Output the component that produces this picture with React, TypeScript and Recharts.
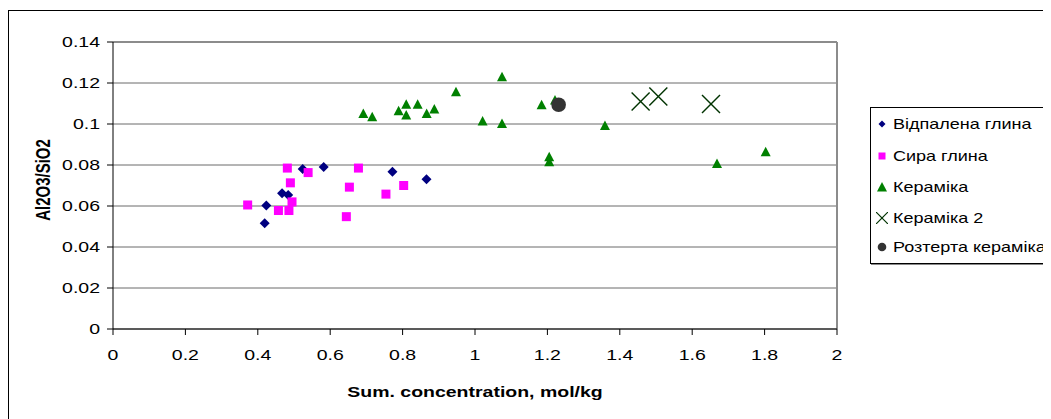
import React from 'react';
import { ScatterChart, Scatter, XAxis, YAxis, CartesianGrid, ReferenceLine } from 'recharts';

// Відпалена глина
const annealedX = [0.419, 0.4235, 0.467, 0.484, 0.524, 0.582, 0.772, 0.866];
const annealedY = [0.0516, 0.0602, 0.0662, 0.0654, 0.078, 0.079, 0.0767, 0.0731];
// Сира глина
const rawX = [0.372, 0.457, 0.486, 0.4945, 0.49, 0.4816, 0.539, 0.6446, 0.653, 0.678, 0.754, 0.803];
const rawY = [0.0605, 0.0578, 0.0578, 0.062, 0.0713, 0.0785, 0.0763, 0.0548, 0.0692, 0.0785, 0.0658, 0.07];
// Кераміка
const ceramicX = [0.6915, 0.716, 0.789, 0.81, 0.81, 0.8416, 0.8665, 0.8876, 0.9475, 1.021, 1.0746, 1.0746, 1.184, 1.205, 1.205, 1.221, 1.359, 1.6685, 1.803];
const ceramicY = [0.1053, 0.1037, 0.1066, 0.1097, 0.1045, 0.1097, 0.1053, 0.1074, 0.1159, 0.1016, 0.1232, 0.1004, 0.1095, 0.0841, 0.0817, 0.1118, 0.0994, 0.0809, 0.0866];
// Кераміка 2
const ceramic2X = [1.4576, 1.5064, 1.652];
const ceramic2Y = [0.111, 0.1134, 0.1097];
// Розтерта кераміка
const groundX = [1.231];
const groundY = [0.1094];

const seriesNames = ['Відпалена глина', 'Сира глина', 'Кераміка', 'Кераміка 2', 'Розтерта кераміка'];
const xTicks = [0, 0.2, 0.4, 0.6, 0.8, 1, 1.2, 1.4, 1.6, 1.8, 2];
const yTicks = [0, 0.02, 0.04, 0.06, 0.08, 0.1, 0.12, 0.14];
const xTitle = 'Sum. concentration, mol/kg';
const yTitle = 'Al2O3/SiO2';

const FONT = '"Liberation Sans", Arial, sans-serif';
const SX = 1.3;
const LSX = 1.2;

const toPts = (xs: number[], ys: number[]) => xs.map((x, i) => ({ x, y: ys[i] }));
const fmt = (v: number) => String(Number(v.toFixed(2)));

const Diamond = (p: any) => {
  const { cx, cy } = p; const r = 5;
  return <polygon points={`${cx},${cy - r} ${cx + r},${cy} ${cx},${cy + r} ${cx - r},${cy}`} fill="#000080" />;
};
const Square = (p: any) => {
  const { cx, cy } = p; const s = 9;
  return <rect x={cx - s / 2} y={cy - s / 2} width={s} height={s} fill="#FF00FF" />;
};
const Triangle = (p: any) => {
  const { cx, cy } = p; const w = 10; const h = 9.5;
  return <polygon points={`${cx},${cy - h / 2} ${cx + w / 2},${cy + h / 2} ${cx - w / 2},${cy + h / 2}`} fill="#008000" />;
};
const Cross = (p: any) => {
  const { cx, cy } = p; const r = 9;
  return (
    <g stroke="#003300" strokeWidth={1.4}>
      <line x1={cx - r} y1={cy - r} x2={cx + r} y2={cy + r} />
      <line x1={cx - r} y1={cy + r} x2={cx + r} y2={cy - r} />
    </g>
  );
};
const Dot = (p: any) => {
  const { cx, cy } = p;
  return <circle cx={cx} cy={cy} r={7.3} fill="#333333" />;
};

const YTick = (p: any) => {
  const { x, y, payload } = p;
  return (
    <text transform={`translate(${x},${y}) scale(${SX},1)`} textAnchor="end" dominantBaseline="central" fontSize={15} fontFamily={FONT} fill="#000">
      {fmt(payload.value)}
    </text>
  );
};
const XTick = (p: any) => {
  const { x, y, payload } = p;
  return (
    <text transform={`translate(${x},${y}) scale(${SX},1)`} textAnchor="middle" dominantBaseline="central" fontSize={15} fontFamily={FONT} fill="#000">
      {fmt(payload.value)}
    </text>
  );
};

const XTitle = (p: any) => {
  const vb = p.viewBox || { x: 105, y: 321, width: 724 };
  return (
    <text transform={`translate(${vb.x + vb.width / 2},${vb.y + 63}) scale(${SX},1)`} textAnchor="middle" dominantBaseline="central" fontSize={15} fontWeight="bold" fontFamily={FONT} fill="#000">
      {xTitle}
    </text>
  );
};
const YTitle = (p: any) => {
  const vb = p.viewBox || { x: 45, y: 34, height: 287 };
  return (
    <text transform={`translate(${vb.x - 10},${vb.y + 138}) scale(${SX},1) rotate(-90)`} textAnchor="middle" dominantBaseline="central" fontSize={15} fontWeight="bold" fontFamily={FONT} fill="#000">
      {yTitle}
    </text>
  );
};

const legendSymbols = [
  <polygon key="d" points="6,2.5 9.5,6 6,9.5 2.5,6" fill="#000080" />,
  <rect key="s" x="2.5" y="2.5" width="7" height="7" fill="#FF00FF" />,
  <polygon key="t" points="6,1 11,10.5 1,10.5" fill="#008000" />,
  <g key="c" stroke="#003300" strokeWidth={1.2}><line x1="0" y1="0" x2="12" y2="12" /><line x1="0" y1="12" x2="12" y2="0" /></g>,
  <circle key="o" cx="6" cy="6" r="4.3" fill="#333333" />,
];
const legendTops = [116, 148, 179, 210, 239];

export default function App() {
  return (
    <div style={{ position: 'relative', width: 1043, height: 411, overflow: 'hidden', background: '#fff' }}>
      <div style={{ position: 'absolute', left: 0, top: 2, width: 1200, height: 600, borderLeft: '1px solid #000', borderTop: '1px solid #000' }} />
      <div style={{ position: 'absolute', left: 0, top: 0 }}>
        <ScatterChart width={1043} height={411} margin={{ top: 34, right: 214, bottom: 60, left: 45 }}>
          <CartesianGrid horizontal vertical={false} stroke="#6a6a6a" strokeWidth={1} />
          <XAxis
            type="number" dataKey="x" domain={[0, 2]} ticks={xTicks} height={30}
            axisLine={{ stroke: '#000' }} tickLine={{ stroke: '#000' }} tickSize={6} tickMargin={20}
            tick={<XTick />} interval={0} allowDataOverflow
            label={{ content: <XTitle /> } as any}
          />
          <YAxis
            type="number" dataKey="y" domain={[0, 0.14]} ticks={yTicks} width={60}
            axisLine={{ stroke: '#000' }} tickLine={{ stroke: '#000' }} tickSize={6} tickMargin={7}
            tick={<YTick />} interval={0} allowDataOverflow
            label={{ content: <YTitle /> } as any}
          />
          <ReferenceLine x={2} stroke="#8c8c8c" strokeWidth={2} />
          <ReferenceLine y={0.14} stroke="#8c8c8c" strokeWidth={2} />
          <Scatter name={seriesNames[0]} data={toPts(annealedX, annealedY)} shape={Diamond} isAnimationActive={false} />
          <Scatter name={seriesNames[1]} data={toPts(rawX, rawY)} shape={Square} isAnimationActive={false} />
          <Scatter name={seriesNames[2]} data={toPts(ceramicX, ceramicY)} shape={Triangle} isAnimationActive={false} />
          <Scatter name={seriesNames[3]} data={toPts(ceramic2X, ceramic2Y)} shape={Cross} isAnimationActive={false} />
          <Scatter name={seriesNames[4]} data={toPts(groundX, groundY)} shape={Dot} isAnimationActive={false} />
        </ScatterChart>
      </div>
      <div style={{ position: 'absolute', left: 862, top: 99, width: 300, height: 155, border: '1px solid #000', boxShadow: '1px 1px 0 #888', background: '#fff' }} />
      {seriesNames.map((name, i) => (
        <div key={name} style={{ position: 'absolute', left: 868, top: legendTops[i] - 10, height: 20, display: 'flex', alignItems: 'center', whiteSpace: 'nowrap' }}>
          <svg width={12} height={12} style={{ display: 'block' }}>{legendSymbols[i]}</svg>
          <span style={{ display: 'inline-block', marginLeft: 5, fontFamily: FONT, fontSize: 15, transform: `scaleX(${LSX})`, transformOrigin: 'left center', lineHeight: '20px' }}>{name}</span>
        </div>
      ))}
    </div>
  );
}
